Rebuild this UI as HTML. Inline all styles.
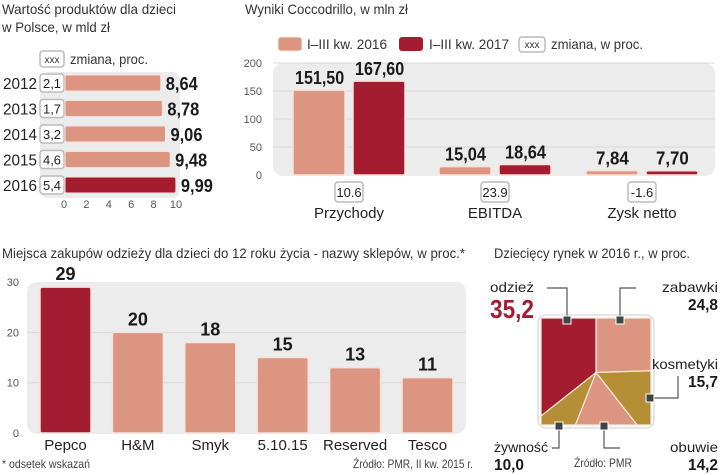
<!DOCTYPE html>
<html><head><meta charset="utf-8">
<style>
html,body{margin:0;padding:0;background:#fff;}
svg{display:block;font-family:"Liberation Sans Narrow","Liberation Sans",sans-serif;}
.t{font-size:14px;fill:#333;}
.v{font-weight:bold;font-size:18px;fill:#1a1a1a;}
.tk{font-size:11px;fill:#555;}
</style></head>
<body>
<svg id="c" width="720" height="475" viewBox="0 0 720 475">
<text x="2" y="14" class="t" textLength="174" lengthAdjust="spacingAndGlyphs">Wartość produktów dla dzieci</text>
<text x="2" y="32" class="t" textLength="108" lengthAdjust="spacingAndGlyphs">w Polsce, w mld zł</text>
<g>
<rect x="40" y="51" width="24" height="16" rx="3" fill="#fff" stroke="#bbb" stroke-width="1.5"/>
<text x="52" y="63" text-anchor="middle" font-size="10" fill="#333">xxx</text>
<text x="70" y="64" class="t" textLength="78" lengthAdjust="spacingAndGlyphs">zmiana, proc.</text>
</g>
<rect x="40" y="72" width="140" height="126" rx="8" fill="#ececec"/>

<text x="245" y="14" class="t" textLength="163" lengthAdjust="spacingAndGlyphs">Wyniki Coccodrillo, w mln zł</text>
<g>
<rect x="278" y="37" width="24" height="14" rx="3" fill="#dc9580" stroke="#eed" stroke-width="1"/>
<text x="307" y="49" class="t" textLength="80" lengthAdjust="spacingAndGlyphs">I–III kw. 2016</text>
<rect x="399" y="37" width="24" height="14" rx="3" fill="#a31c30"/>
<text x="429" y="49" class="t" textLength="80" lengthAdjust="spacingAndGlyphs">I–III kw. 2017</text>
<rect x="519" y="37" width="26" height="15" rx="3" fill="#fff" stroke="#bbb" stroke-width="1.5"/>
<text x="532" y="48" text-anchor="middle" font-size="10" fill="#333">xxx</text>
<text x="551" y="49" class="t" textLength="92" lengthAdjust="spacingAndGlyphs">zmiana, w proc.</text>
</g>
<rect x="273" y="63" width="442" height="113" rx="10" fill="#ececec"/>

<text x="2" y="258" class="t" textLength="463" lengthAdjust="spacingAndGlyphs">Miejsca zakupów odzieży dla dzieci do 12 roku życia - nazwy sklepów, w proc.*</text>
<rect x="27" y="282" width="439" height="152" rx="10" fill="#ececec"/>
<text x="2" y="468" font-size="12" fill="#444" textLength="88" lengthAdjust="spacingAndGlyphs">* odsetek wskazań</text>
<text x="353" y="468" font-size="12" fill="#444" textLength="120" lengthAdjust="spacingAndGlyphs">Źródło: PMR, II kw. 2015 r.</text>

<text x="494" y="258" class="t" textLength="196" lengthAdjust="spacingAndGlyphs">Dziecięcy rynek w 2016 r., w proc.</text>
<text x="574" y="467" font-size="12" fill="#444" textLength="58" lengthAdjust="spacingAndGlyphs">Źródło: PMR</text>
</svg>
<script>
// Chart 1
const years=["2012","2013","2014","2015","2016"];
const values1=[8.64,8.78,9.06,9.48,9.99];
const changes1=["2,1","1,7","3,2","4,6","5,4"];
const valueLabels1=["8,64","8,78","9,06","9,48","9,99"];
const ticks1=[0,2,4,6,8,10];
// Chart 2
const cats2=["Przychody","EBITDA","Zysk netto"];
const s2016=[151.5,15.04,7.84];
const s2017=[167.6,18.64,7.70];
const labels2016=["151,50","15,04","7,84"];
const labels2017=["167,60","18,64","7,70"];
const changes2=["10.6","23.9","-1.6"];
const ticks2=[0,50,100,150,200];
// Chart 3
const shops=["Pepco","H&M","Smyk","5.10.15","Reserved","Tesco"];
const shares=[29,20,18,15,13,11];
const ticks3=[0,10,20,30];
// Chart 4
const segNames=["odzież","zabawki","kosmetyki","obuwie","żywność"];
const segValues=[35.2,24.8,15.7,14.2,10.0];
const segLabels=["35,2","24,8","15,7","14,2","10,0"];

const NS="http://www.w3.org/2000/svg";
const svg=document.getElementById("c");
function el(tag,attrs,parent){const e=document.createElementNS(NS,tag);for(const k in attrs)e.setAttribute(k,attrs[k]);(parent||svg).appendChild(e);return e;}
function txt(x,y,s,attrs){const e=el("text",Object.assign({x:x,y:y},attrs||{}));e.textContent=s;return e;}
function squeeze(e,perChar){e.setAttribute("textLength",e.textContent.length*perChar);e.setAttribute("lengthAdjust","spacingAndGlyphs");}
const LIGHT="#dc9580",DARK="#a31c30",GOLD="#b58e35";

// ---- chart 1
const x1=v=>64+v*11.2;
const y1=i=>83+i*25.5;
ticks1.forEach(t=>{const e=txt(x1(t),208,String(t),{"text-anchor":"middle",class:"tk"});

});
years.forEach((yr,i)=>{
 const cy=y1(i);
 const yl=txt(3,cy+6,yr,{"font-size":"16",fill:"#222"});
 squeeze(yl,8.5);
 
 
 const b=el("rect",{x:40,y:cy-9,width:24,height:18,rx:3,fill:"#fff",stroke:"#bbb","stroke-width":1.5});
 
 
 const ct=txt(52,cy+5,changes1[i],{"text-anchor":"middle","font-size":"13",fill:"#222"});
 squeeze(ct,6);
 const bar=el("rect",{x:x1(0)+1,y:cy-8,width:x1(values1[i])-x1(0)-1,height:16,rx:2,fill:i===4?DARK:LIGHT,stroke:"#f3e3dc","stroke-width":1});
 
 
 const vl=txt(x1(values1[i])+5,cy+7,valueLabels1[i],{class:"v"});
 squeeze(vl,8);
 
 
});

// ---- chart 2
const y2=v=>175-v*0.56;
const centers2=[349,495,642];
ticks2.forEach(t=>{
 if(t>0){const g=el("line",{x1:273,x2:715,y1:y2(t),y2:y2(t),stroke:"#d8d8d8","stroke-width":1});
 
 }
 const e=txt(262,y2(t)+4,String(t),{"text-anchor":"end",class:"tk"});
 
 
});
cats2.forEach((c,i)=>{
 const cx=centers2[i];
 [[s2016,labels2016,LIGHT,-56],[s2017,labels2017,DARK,4]].forEach(([s,l,col,off],k)=>{
  const top=y2(s[i]);
  const r=el("rect",{x:cx+off,y:top,width:52,height:175-top,rx:2,fill:col,stroke:"#f3e3dc","stroke-width":1.5});
  
  
  const v=txt(cx+off+26-l[i].length*4,top-6,l[i],{class:"v"});
  squeeze(v,8.2);
  
  
 });
 const b=el("rect",{x:cx-14,y:182,width:28,height:20,rx:3,fill:"#fff",stroke:"#bbb","stroke-width":1.5});
 
 
 const ct=txt(cx,197,changes2[i],{"text-anchor":"middle","font-size":"13",fill:"#222"});
 const cl=txt(cx,218,c,{"text-anchor":"middle","font-size":"15",fill:"#222"});
 
 
});

// ---- chart 3
const y3=v=>433-v*5.03;
const x3=i=>40+i*72.4;
ticks3.forEach(t=>{
 if(t>0&&t<30){const g=el("line",{x1:27,x2:466,y1:y3(t),y2:y3(t),stroke:"#d8d8d8","stroke-width":1});
 
 }
 const e=txt(19,y3(t)+4,String(t),{"text-anchor":"end",class:"tk"});
 
 
});
shops.forEach((s,i)=>{
 const top=y3(shares[i]);
 const r=el("rect",{x:x3(i),y:top,width:51,height:433-top,rx:2,fill:i===0?DARK:LIGHT,stroke:"#f3e3dc","stroke-width":1.5});
 
 
 const v=txt(x3(i)+25.5,top-7,String(shares[i]),{"text-anchor":"middle",class:"v"});
 
 
 const l=txt(x3(i)+25.5,450,s,{"text-anchor":"middle","font-size":"15",fill:"#222"});
 
 
});

// ---- chart 4 square "pie"
const sq={x:541,y:318,w:110,h:107};
const cxp=sq.x+sq.w/2,cyp=sq.y+sq.h/2+1;
const per=2*(sq.w+sq.h);
function perimPt(d){
 d=((d%per)+per)%per;
 const segs=[[sq.w/2,(t)=>[cxp+t,sq.y]],[sq.h,(t)=>[sq.x+sq.w,sq.y+t]],[sq.w,(t)=>[sq.x+sq.w-t,sq.y+sq.h]],[sq.h,(t)=>[sq.x,sq.y+sq.h-t]],[sq.w/2,(t)=>[sq.x+t,sq.y]]];
 for(const [len,f] of segs){if(d<=len)return f(d);d-=len;}
 return [cxp,sq.y];
}
const corners=[sq.w/2,sq.w/2+sq.h,sq.w*1.5+sq.h,sq.w*1.5+2*sq.h];
const total=segValues.reduce((a,b)=>a+b,0);
const order=[1,2,3,4,0];
const cols={0:DARK,1:LIGHT,2:GOLD,3:LIGHT,4:GOLD};
el("rect",{x:sq.x-3,y:sq.y-3,width:sq.w+6,height:sq.h+6,rx:8,fill:"#fff",stroke:"#ddd","stroke-width":1.5});
let acc=0;
order.forEach(idx=>{
 const d0=acc/total*per, d1=(acc+segValues[idx])/total*per;
 acc+=segValues[idx];
 let pts=[[cxp,cyp],perimPt(d0)];
 corners.forEach(c=>{if(c>d0&&c<d1)pts.push(perimPt(c));});
 pts.push(perimPt(d1));
 const p=el("polygon",{points:pts.map(q=>q.join(",")).join(" "),fill:cols[idx],stroke:"#f6ead8","stroke-width":1.2});
 
 
});
const call=[
 {i:0,m:[567,320],path:"M567,320 L567,288 L547,288",lx:490,ly:292,vy:318,anchor:"start",big:true,w:[44,8*4*1.0]},
 {i:1,m:[620,320],path:"M620,320 L620,288 L636,288",lx:718,ly:292,vy:310,anchor:"end",w:[56]},
 {i:2,m:[650,398],path:"M650,398 L678,398 L678,376",lx:718,ly:369,vy:387,anchor:"end",w:[66]},
 {i:3,m:[604,426],path:"M604,426 L604,448 L620,448",lx:718,ly:452,vy:470,anchor:"end",w:[48]},
 {i:4,m:[559,426],path:"M559,426 L559,448 L552,448",lx:494,ly:452,vy:470,anchor:"start",w:[54]}
];
call.forEach(c=>{
 el("path",{d:c.path,fill:"none",stroke:"#555","stroke-width":1.2});
 const m=el("rect",{x:c.m[0]-4,y:c.m[1]-4,width:8,height:8,fill:"#3d4548",stroke:"#fff","stroke-width":1});
 
 
 const n=txt(c.lx,c.ly,segNames[c.i],{"text-anchor":c.anchor,"font-size":"14",fill:"#222",textLength:c.w[0],lengthAdjust:"spacingAndGlyphs"});
 
 
 const v=txt(c.lx,c.big?318:c.vy,segLabels[c.i],c.big?{"text-anchor":c.anchor,"font-size":"26","font-weight":"bold",fill:DARK}:{"text-anchor":c.anchor,"font-size":"16","font-weight":"bold",fill:"#1a1a1a"});
 squeeze(v,c.big?11:7.5);
 
 
});
</script>
</body></html>
